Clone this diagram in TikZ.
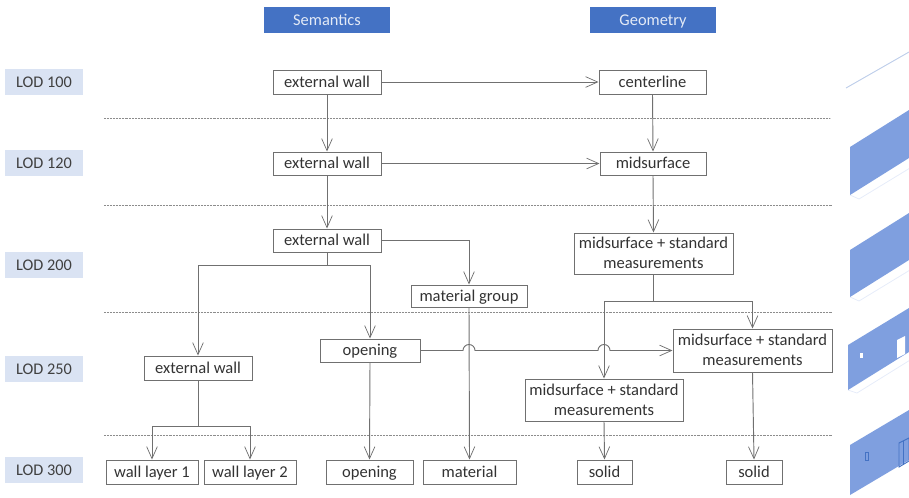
\documentclass[tikz,border=0pt]{standalone}
\usepackage{fontspec}
\setmainfont{Carlito}
\usetikzlibrary{arrows.meta,calc}
\definecolor{hdr}{HTML}{4472C4}
\definecolor{lod}{HTML}{DAE3F3}
\definecolor{ln}{HTML}{707070}
\definecolor{wallc}{HTML}{7F9FDF}
\definecolor{wallo}{HTML}{E6ECF9}
\newcommand{\tstrut}{\rule[-3.6pt]{0pt}{15pt}}
\tikzset{
 x=0.75pt,y=-0.75pt,
 boxn/.style={draw=ln,line width=0.75pt,fill=white,inner sep=0pt,align=center,font=\fontsize{12.4}{15}\selectfont,text=black!80},
 hdrn/.style={fill=hdr,inner sep=0pt,minimum width=94.5pt,minimum height=19.5pt,text=white!85!hdr,font=\fontsize{12.3}{15}\selectfont},
 lodn/.style={fill=lod,inner sep=0pt,minimum width=58.5pt,minimum height=19.5pt,text=black!75,font=\fontsize{12.2}{15}\selectfont},
 conn/.style={draw=ln,line width=0.7pt},
 arr/.style={conn,-{Straight Barb[length=9pt,width=8pt,line width=0.55pt]}},
 sep/.style={draw=black!45,line width=0.6pt,dash pattern=on 0.55pt off 0.55pt},
 wall/.style={fill=wallc,draw=none},
 hole/.style={fill=white,draw=none},
 faint/.style={draw=wallo,line width=0.6pt},
}
\newcommand{\bx}[5]{\node[boxn,minimum width=#3*0.75pt,minimum height=#4*0.75pt] (#1) at (#2) {\tstrut #5\tstrut};}
\begin{document}
\begin{tikzpicture}
\useasboundingbox (0,0) rectangle (909,497);
% separators
\coordinate (s1a) at (104,118); \coordinate (s1b) at (830,118);
\coordinate (s2a) at (104,205); \coordinate (s2b) at (832,205);
\coordinate (s3a) at (104,312); \coordinate (s3b) at (832,312);
\coordinate (s4a) at (104,435); \coordinate (s4b) at (832,435);
\draw[sep] (s1a)--(s1b);
\draw[sep] (s2a)--(s2b);
\draw[sep] (s3a)--(s3b);
\draw[sep] (s4a)--(s4b);
% headers
\node[hdrn] (hs) at (327,20) {\tstrut Semantics};
\node[hdrn] (hg) at (653,20) {\tstrut Geometry};
\node[lodn] (l1) at (44,82) {\tstrut LOD 100};
\node[lodn] (l2) at (44,163) {\tstrut LOD 120};
\node[lodn] (l3) at (44,265) {\tstrut LOD 200};
\node[lodn] (l4) at (44,369) {\tstrut LOD 250};
\node[lodn] (l5) at (44,470) {\tstrut LOD 300};
% boxes
\bx{e1}{327,82}{108}{24}{external wall}
\bx{c1}{652.5,82}{107}{24}{centerline}
\bx{e2}{327,163.5}{108}{23}{external wall}
\bx{m1}{653,163.5}{106}{23}{midsurface}
\bx{e3}{327,240.5}{108}{23}{external wall}
\bx{m2}{653.5,253.5}{159}{41}{midsurface + standard\\measurements}
\bx{mg}{469,296}{116}{22}{material group}
\bx{op}{370,350.5}{100}{23}{opening}
\bx{e4}{198,368}{108}{24}{external wall}
\bx{mr}{752.5,350.5}{159}{43}{midsurface + standard\\measurements}
\bx{ml}{604,400}{158}{42}{midsurface + standard\\measurements}
\bx{w1}{152,472}{92}{24}{wall layer 1}
\bx{w2}{250,472}{92}{24}{wall layer 2}
\bx{o2}{369.5,472}{87}{24}{opening}
\bx{ma}{469.5,472}{93}{24}{material}
\bx{s1}{604.5,472}{55}{24}{solid}
\bx{s2}{754,472}{56}{24}{solid}
% connectors
\draw[arr] (e1.east)--(c1.west);
\draw[arr] (e2.east)--(m1.west);
\draw[arr] (e1.south)--(e2.north);
\draw[arr] (e2.south)--(e3.north);
\draw[arr] (c1.south)--(m1.north);
\draw[arr] (m1.south)--(m2.north);
\draw[arr] (e3.east) -| (mg.north);
\coordinate (j1) at ($(e3.south)+(0,13)$);
\draw[conn] (e3.south)--(j1);
\draw[arr] (j1) -| (e4.north);
\draw[arr] (j1) -| (op.north);
\draw[arr] (op.south)--(o2.north);
\draw[arr] (mg.south)--(ma.north);
\coordinate (j2) at ($(m2.south)+(0,27)$);
\draw[conn] (m2.south)--(j2);
\draw[arr] (j2) -| (ml.north);
\draw[arr] (j2) -| (mr.north);
\coordinate (j3) at ($(e4.south)+(0,46)$);
\draw[conn] (e4.south)--(j3);
\draw[arr] (j3) -| (w1.north);
\draw[arr] (j3) -| (w2.north);
\draw[arr] (ml.south)--(s1.north);
\draw[arr] (mr.south)--(s2.north);
% opening -> right box with two hops
\coordinate (h1) at (mg.south |- op.east);
\coordinate (h2) at (ml.north |- op.east);
\draw[arr] (op.east) -- ($(h1)+(-6,0)$) arc[start angle=180,end angle=0,radius=4.5pt] -- ($(h2)+(-6,0)$) arc[start angle=180,end angle=0,radius=4.5pt] -- (mr.west);
% wall pictures
\begin{scope}
\clip (840,0) rectangle (909,497);
\draw[draw=hdr!35,line width=0.7pt] (846,88)--(909,52);
% LOD 120
\draw[faint] (850,195)--(859,199)--(915,165);
\fill[wall] (850,147)--(909,110)--(909,158)--(850,195)--cycle;
% LOD 200
\draw[faint] (850,297)--(859,301)--(915,267);
\fill[wall] (850,250)--(909,213)--(909,260)--(850,297)--cycle;
% LOD 250
\draw[faint] (848,390)--(857,393)--(915,357);
\fill[wall] (848,345)--(909,308)--(909,352)--(848,390)--cycle;
\fill[hole] (860,353) rectangle (863,358);
\fill[hole] (897,340)--(905,336)--(905,354)--(897,358)--cycle;
% LOD 300
\fill[wall] (850,445)--(909,410)--(909,460)--(850,495)--cycle;
\draw[hdr,line width=0.7pt,fill=wallc] (865,452) rectangle (868,460);
\draw[hdr,line width=0.7pt] (899,443)--(909,438)--(909,461)--(899,467)--cycle;
\draw[hdr,line width=0.5pt] (903,441)--(903,465);
\end{scope}
\end{tikzpicture}
\end{document}
